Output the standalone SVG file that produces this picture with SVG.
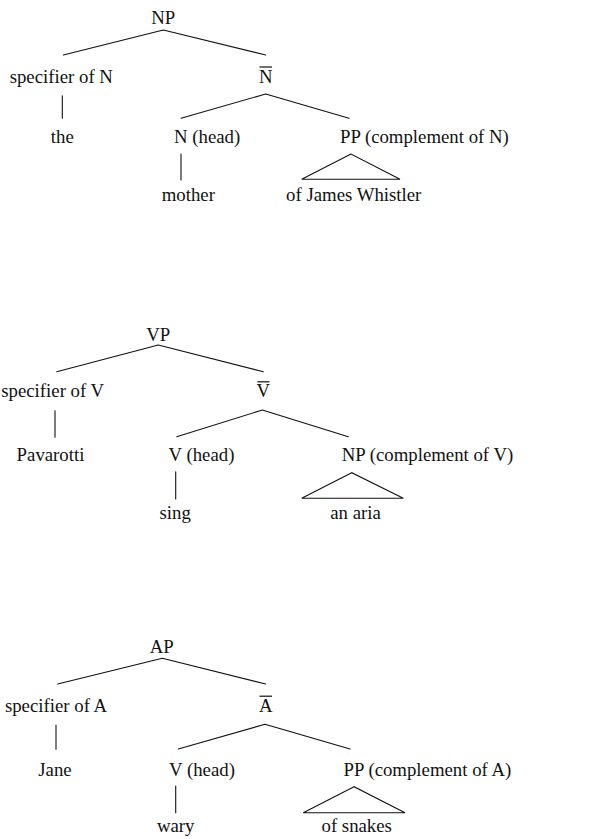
<svg xmlns="http://www.w3.org/2000/svg" width="600" height="839" viewBox="0 0 600 839" font-family="'Liberation Serif', 'DejaVu Serif', serif">
  <style>
    text { font-family: "Liberation Serif", "DejaVu Serif", serif; font-size: 18.8px; fill: #111; }
    .c { text-anchor: middle; }
    .s { text-anchor: start; }
    .edge { stroke: #111; stroke-width: 1.1; fill: none; stroke-linecap: round; stroke-linejoin: miter; }
    .bar { stroke: #111; stroke-width: 1.2; }
  </style>
  <rect width="600" height="839" fill="#fff"/>

  <!-- branches, unary lines and roof triangles -->
  <g id="connectors" class="edge">
    <!-- NP tree -->
    <path d="M163.3,30 L63.3,55 M163.3,30 L265.7,55"/>
    <path d="M62.3,95.7 L62.3,118.3"/>
    <path d="M265.7,94 L181,118.3 M265.7,94 L349,118.3"/>
    <path d="M181,154 L181,180"/>
    <path d="M351,154 L301.7,179.3 L400,179.3 Z"/>
    <!-- VP tree -->
    <path d="M158.3,345 L56.7,371.7 M158.3,345 L263.3,371.7"/>
    <path d="M55,410.7 L55,437.3"/>
    <path d="M262.3,410 L176.7,436.7 M262.3,410 L348.3,436.7"/>
    <path d="M175.7,471.7 L175.7,499"/>
    <path d="M351.7,472.7 L301.7,498.3 L403.3,498.3 Z"/>
    <!-- AP tree -->
    <path d="M162.3,658.3 L57.7,684 M162.3,658.3 L265.7,684"/>
    <path d="M56,725 L56,749.3"/>
    <path d="M265,724.3 L178.3,749 M265,724.3 L350,749"/>
    <path d="M175.7,786 L175.7,812.7"/>
    <path d="M354,786.7 L303.3,812.7 L405,812.7 Z"/>
  </g>

  <!-- NP tree -->
  <g id="np"><text class="c" x="163.3" y="24">NP</text></g>
  <g id="spec-n"><text class="c" x="61.3" y="82.5">specifier of N</text></g>
  <g id="nbar"><text class="c" x="265.7" y="82.5">N</text><line class="bar" x1="259.5" y1="67" x2="272" y2="67"/></g>
  <g id="the"><text class="c" x="62.3" y="143.3">the</text></g>
  <g id="n-head"><text class="s" x="174" y="143.3">N (head)</text></g>
  <g id="pp-comp-n"><text class="s" x="340" y="143.3">PP (complement of N)</text></g>
  <g id="mother"><text class="c" x="188.3" y="201">mother</text></g>
  <g id="of-james-whistler"><text class="c" x="353.7" y="201">of James Whistler</text></g>

  <!-- VP tree -->
  <g id="vp"><text class="c" x="158.3" y="340.7">VP</text></g>
  <g id="spec-v"><text class="c" x="52.7" y="397.3">specifier of V</text></g>
  <g id="vbar"><text class="c" x="263.3" y="397.3">V</text><line class="bar" x1="257.3" y1="381.8" x2="269.5" y2="381.8"/></g>
  <g id="pavarotti"><text class="c" x="50.5" y="460.7">Pavarotti</text></g>
  <g id="v-head"><text class="s" x="168.5" y="460.7">V (head)</text></g>
  <g id="np-comp-v"><text class="s" x="341.7" y="460.7">NP (complement of V)</text></g>
  <g id="sing"><text class="c" x="175.2" y="519.3">sing</text></g>
  <g id="an-aria"><text class="c" x="355.5" y="519.3">an aria</text></g>

  <!-- AP tree -->
  <g id="ap"><text class="c" x="161.7" y="652.7">AP</text></g>
  <g id="spec-a"><text class="c" x="56" y="711.7">specifier of A</text></g>
  <g id="abar"><text class="c" x="265.7" y="711.7">A</text><line class="bar" x1="259.5" y1="696.2" x2="272" y2="696.2"/></g>
  <g id="jane"><text class="c" x="55" y="776">Jane</text></g>
  <g id="a-head"><text class="s" x="169" y="776">V (head)</text></g>
  <g id="pp-comp-a"><text class="s" x="343.5" y="776">PP (complement of A)</text></g>
  <g id="wary"><text class="c" x="175.7" y="832">wary</text></g>
  <g id="of-snakes"><text class="c" x="356.7" y="832">of snakes</text></g>
</svg>
